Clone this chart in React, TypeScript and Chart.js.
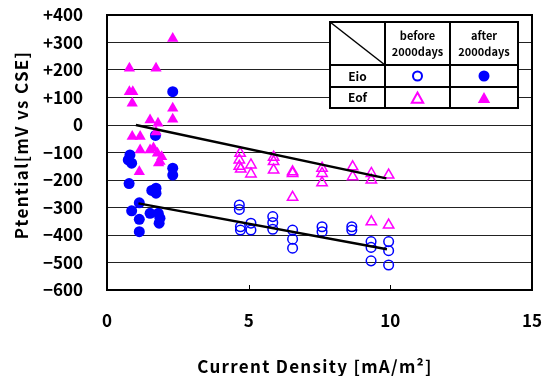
import React, { useEffect, useRef } from 'react';
import { Chart, registerables } from 'chart.js';

Chart.register(...registerables);

// ---- Data ----
// Eio before 2000 days (open circles)
const EIO_BEFORE_X = [4.67, 4.67, 4.71, 4.71, 5.08, 5.08, 5.85, 5.85, 5.85, 6.55, 6.55, 6.55, 7.59, 7.59, 8.64, 8.64, 9.32, 9.32, 9.32, 9.94, 9.94, 9.94];
const EIO_BEFORE_Y = [-291, -307, -370, -382, -357, -382, -333, -355, -379, -382, -415, -448, -370, -388, -370, -382, -424, -445, -494, -424, -457, -509];

// Eio after 2000 days (filled circles)
const EIO_AFTER_X = [2.32, 1.71, 0.81, 0.75, 0.87, 2.32, 2.32, 0.78, 1.58, 1.73, 1.73, 1.14, 0.87, 1.52, 1.81, 1.87, 1.84, 1.14, 1.14];
const EIO_AFTER_Y = [121, -38, -109, -127, -139, -157, -182, -213, -238, -230, -248, -283, -312, -321, -321, -339, -357, -343, -388];

// Eof before 2000 days (open triangles)
const EOF_BEFORE_X = [4.70, 4.67, 4.67, 4.72, 5.08, 5.08, 5.88, 5.88, 5.88, 6.55, 6.55, 6.55, 7.59, 7.59, 7.59, 8.67, 8.67, 9.33, 9.33, 9.94, 9.33, 9.94];
const EOF_BEFORE_Y = [-103, -127, -150, -160, -145, -178, -117, -133, -164, -170, -176, -263, -157, -176, -210, -152, -188, -176, -200, -182, -352, -364];

// Eof after 2000 days (filled triangles)
const EOF_AFTER_X = [0.79, 1.73, 2.32, 0.79, 0.91, 0.89, 2.32, 2.32, 1.52, 1.80, 1.73, 0.89, 1.17, 1.17, 1.52, 1.64, 1.78, 1.93, 1.87, 1.82, 1.14];
const EOF_AFTER_Y = [206, 206, 315, 121, 121, 79, 61, 21, 18, 6, -25, -42, -42, -91, -91, -84, -103, -115, -133, -138, -170];

// Trend lines
const EOF_TREND_X = [1.02, 9.86];
const EOF_TREND_Y = [0, -194];
const EIO_TREND_X = [1.11, 9.88];
const EIO_TREND_Y = [-285, -452];

// Axes
const Y_TICKS = [400, 300, 200, 100, 0, -100, -200, -300, -400, -500, -600];
const Y_TICK_LABELS = ['+400', '+300', '+200', '+100', '0', '\u2212100', '\u2212200', '\u2212300', '\u2212400', '\u2212500', '\u2212600'];
const X_TICKS = [0, 5, 10, 15];
const X_TICK_LABELS = ['0', '5', '10', '15'];

const X_TITLE = 'Current Density [mA/m\u00B2]';
const Y_TITLE = 'Ptential[mV vs CSE]';

const LEGEND_COLS = [['before', '2000days'], ['after', '2000days']];
const LEGEND_ROWS = ['Eio', 'Eof'];

const BLUE = '#0000ff';
const MAGENTA = '#ff00ff';
const FONT = '"Noto Sans CJK JP", "Noto Sans", sans-serif';

const pts = (xs: number[], ys: number[]) => xs.map((x, i) => ({ x, y: ys[i] }));

const decorPlugin = {
  id: 'decor',
  afterDraw(chart: any) {
    const ctx = chart.ctx;
    const { left, right, top, bottom } = chart.chartArea;
    const xs = chart.scales.x;
    ctx.save();
    // frame
    ctx.strokeStyle = '#000';
    ctx.lineWidth = 2;
    ctx.strokeRect(left, top, right - left, bottom - top);
    // inner x tick marks
    ctx.lineWidth = 1;
    X_TICKS.forEach((t) => {
      if (t === X_TICKS[0] || t === X_TICKS[X_TICKS.length - 1]) return;
      const px = Math.round(xs.getPixelForValue(t)) + 0.5;
      ctx.beginPath();
      ctx.moveTo(px, bottom);
      ctx.lineTo(px, bottom - 5);
      ctx.stroke();
    });

    // axis titles
    ctx.fillStyle = '#000';
    ctx.font = `bold 17px ${FONT}`;
    ctx.textAlign = 'center';
    ctx.textBaseline = 'middle';
    (ctx as any).letterSpacing = '1.3px';
    ctx.fillText(X_TITLE, 315, 367);
    ctx.save();
    ctx.translate(22, 145);
    ctx.rotate(-Math.PI / 2);
    (ctx as any).letterSpacing = '1.3px';
    ctx.fillText(Y_TITLE, 0, 0);
    ctx.restore();
    (ctx as any).letterSpacing = '0px';

    // legend table
    const tl = 330, tt = 22, tr = 518, tb = 108;
    const c1 = 385, c2 = 450;
    const r1 = 65, r2 = 87;
    ctx.fillStyle = '#fff';
    ctx.fillRect(tl, tt, tr - tl, tb - tt);
    ctx.strokeStyle = '#000';
    ctx.lineWidth = 2;
    ctx.strokeRect(tl, tt, tr - tl, tb - tt);
    ctx.beginPath();
    ctx.moveTo(c1, tt); ctx.lineTo(c1, tb);
    ctx.moveTo(c2, tt); ctx.lineTo(c2, tb);
    ctx.moveTo(tl, r1); ctx.lineTo(tr, r1);
    ctx.moveTo(tl, r2); ctx.lineTo(tr, r2);
    ctx.stroke();
    ctx.lineWidth = 1.5;
    ctx.beginPath();
    ctx.moveTo(tl, tt); ctx.lineTo(c1, r1);
    ctx.stroke();

    ctx.fillStyle = '#000';
    ctx.font = `bold 11px ${FONT}`;
    ctx.textAlign = 'center';
    ctx.textBaseline = 'middle';
    const colCenters = [(c1 + c2) / 2, (c2 + tr) / 2];
    LEGEND_COLS.forEach((lines, i) => {
      ctx.fillText(lines[0], colCenters[i], 36);
      ctx.fillText(lines[1], colCenters[i], 52);
    });
    ctx.font = `bold 12px ${FONT}`;
    const rowCenters = [(r1 + r2) / 2, (r2 + tb) / 2];
    LEGEND_ROWS.forEach((lab, i) => {
      ctx.fillText(lab, (tl + c1) / 2, rowCenters[i]);
    });

    // legend markers
    ctx.lineWidth = 2;
    ctx.strokeStyle = BLUE;
    ctx.beginPath();
    ctx.arc(colCenters[0], rowCenters[0], 4.5, 0, Math.PI * 2);
    ctx.stroke();
    ctx.fillStyle = BLUE;
    ctx.beginPath();
    ctx.arc(colCenters[1], rowCenters[0], 5.5, 0, Math.PI * 2);
    ctx.fill();
    const tri = (cx: number, cy: number, s: number) => {
      ctx.beginPath();
      ctx.moveTo(cx, cy - s);
      ctx.lineTo(cx + s * 0.95, cy + s * 0.7);
      ctx.lineTo(cx - s * 0.95, cy + s * 0.7);
      ctx.closePath();
    };
    ctx.strokeStyle = MAGENTA;
    ctx.lineWidth = 2;
    tri(colCenters[0], rowCenters[1] + 1, 6);
    ctx.stroke();
    ctx.fillStyle = MAGENTA;
    tri(colCenters[1], rowCenters[1] + 1, 6.5);
    ctx.fill();

    ctx.restore();
  },
};

export default function App() {
  const ref = useRef<HTMLCanvasElement>(null);

  useEffect(() => {
    if (!ref.current) return;
    const chart = new Chart(ref.current, {
      type: 'scatter',
      data: {
        datasets: [
          {
            type: 'line',
            label: 'Eof trend',
            data: pts(EOF_TREND_X, EOF_TREND_Y),
            borderColor: '#000',
            borderWidth: 2.5,
            pointRadius: 0,
            showLine: true,
            fill: false,
          } as any,
          {
            type: 'line',
            label: 'Eio trend',
            data: pts(EIO_TREND_X, EIO_TREND_Y),
            borderColor: '#000',
            borderWidth: 2.5,
            pointRadius: 0,
            showLine: true,
            fill: false,
          } as any,
          {
            label: 'Eof after',
            data: pts(EOF_AFTER_X, EOF_AFTER_Y),
            pointStyle: 'triangle',
            pointRadius: 6.5,
            backgroundColor: MAGENTA,
            borderColor: MAGENTA,
            borderWidth: 0,
          },
          {
            label: 'Eof before',
            data: pts(EOF_BEFORE_X, EOF_BEFORE_Y),
            pointStyle: 'triangle',
            pointRadius: 6,
            backgroundColor: 'rgba(255,255,255,0)',
            borderColor: MAGENTA,
            borderWidth: 1.5,
          },
          {
            label: 'Eio after',
            data: pts(EIO_AFTER_X, EIO_AFTER_Y),
            pointStyle: 'circle',
            pointRadius: 5.5,
            backgroundColor: BLUE,
            borderColor: BLUE,
            borderWidth: 0,
          },
          {
            label: 'Eio before',
            data: pts(EIO_BEFORE_X, EIO_BEFORE_Y),
            pointStyle: 'circle',
            pointRadius: 4.8,
            backgroundColor: 'rgba(255,255,255,0)',
            borderColor: BLUE,
            borderWidth: 1.5,
          },
        ],
      },
      options: {
        animation: false,
        responsive: false,
        devicePixelRatio: 1,
        layout: { padding: { left: 0, right: 10, top: 15, bottom: 0 } },
        plugins: {
          legend: { display: false },
          tooltip: { enabled: false },
          title: { display: false },
        },
        scales: {
          x: {
            type: 'linear',
            min: 0,
            max: 15,
            afterBuildTicks: (s: any) => {
              s.ticks = X_TICKS.map((v) => ({ value: v }));
            },
            ticks: {
              color: '#000',
              font: { family: FONT, size: 17, weight: 'bold' },
              padding: 20,
              maxRotation: 0,
              callback: (v: any) => {
                const i = X_TICKS.indexOf(Number(v));
                return i >= 0 ? X_TICK_LABELS[i] : '';
              },
            },
            grid: { display: false, drawTicks: false },
            border: { display: false },
            afterFit: (s: any) => {
              s.height = 86;
              s.paddingLeft = 0;
              s.paddingRight = 0;
              s.paddingTop = 0;
              s.paddingBottom = 0;
            },
          },
          y: {
            type: 'linear',
            min: -600,
            max: 400,
            afterBuildTicks: (s: any) => {
              s.ticks = Y_TICKS.map((v) => ({ value: v }));
            },
            ticks: {
              color: '#000',
              font: { family: FONT, size: 17, weight: 'bold' },
              padding: 24,
              callback: (v: any) => {
                const i = Y_TICKS.indexOf(Number(v));
                return i >= 0 ? Y_TICK_LABELS[i] : '';
              },
            },
            grid: { color: '#222', lineWidth: 1, drawTicks: false },
            border: { display: false },
            afterFit: (s: any) => {
              s.width = 107;
              s.paddingLeft = 0;
              s.paddingRight = 0;
              s.paddingTop = 0;
              s.paddingBottom = 0;
            },
          },
        },
      },
      plugins: [decorPlugin],
    });
    return () => chart.destroy();
  }, []);

  return (
    <div style={{ position: 'fixed', left: 0, top: 0, width: 542, height: 376, background: '#fff' }}>
      <canvas ref={ref} width={542} height={376} style={{ display: 'block' }} />
    </div>
  );
}
